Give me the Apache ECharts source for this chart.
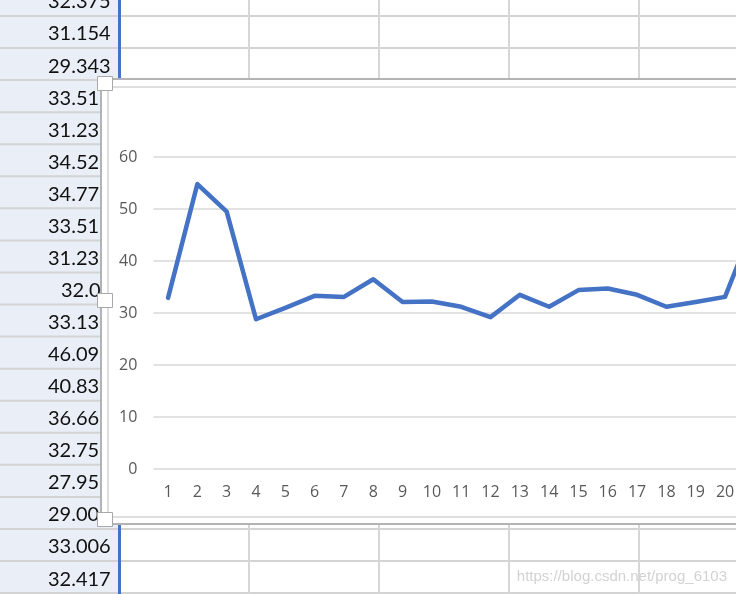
<!DOCTYPE html>
<html>
<head>
<meta charset="utf-8">
<script src="https://cdn.jsdelivr.net/npm/echarts@6/dist/echarts.min.js"></script>
<style>
html,body{margin:0;padding:0;background:#fff;overflow:hidden;width:736px;height:594px;}
#main{width:780px;height:594px;}
</style>
</head>
<body>
<div id="main"></div>
<script>
// ---- data ----
var categories = ['1','2','3','4','5','6','7','8','9','10','11','12','13','14','15','16','17','18','19','20','21'];
var values = [32.9, 54.8, 49.5, 28.8, 31.0, 33.3, 33.1, 36.5, 32.1, 32.2, 31.2, 29.2, 33.5, 31.2, 34.4, 34.7, 33.5, 31.2, 32.1, 33.1, 47.3];
var yMin = 0, yMax = 60, yStep = 10;
// spreadsheet cells visible in the left column (as seen, clipped by the chart)
var cellTexts = ['32.375','31.154','29.343','33.51','31.23','34.52','34.77','33.51','31.23','32.0','33.13','46.09','40.83','36.66','32.75','27.95','29.00','33.006','32.417'];
var watermark = 'https://blog.csdn.net/prog_6103';

// ---- layout of the sheet backdrop ----
var W = 780;
var rowTop = -16.06, rowH = 32.06;
var colLines = [249, 379, 509, 639, 769];
var g = [];
g.push({type:'rect', z:-30, shape:{x:0,y:0,width:W,height:594}, style:{fill:'#ffffff'}});
g.push({type:'rect', z:-29, shape:{x:0,y:0,width:118,height:594}, style:{fill:'#E9EEF7'}});
for (var i = 1; i <= 19; i++) {
  var yy = rowTop + i * rowH;
  g.push({type:'line', z:-28, shape:{x1:0,y1:yy,x2:W,y2:yy}, style:{stroke:'#D3D3D3', lineWidth:2}});
}
colLines.forEach(function (cx) {
  g.push({type:'line', z:-28, shape:{x1:cx,y1:0,x2:cx,y2:594}, style:{stroke:'#D6D6D6', lineWidth:2}});
});
g.push({type:'line', z:-27, shape:{x1:119.5,y1:0,x2:119.5,y2:594}, style:{stroke:'#4472C4', lineWidth:3}});
cellTexts.forEach(function (t, k) {
  var cy = rowTop + k * rowH + rowH / 2 + 2;
  var startX = (t === '32.0') ? 61 : 48;
  g.push({type:'text', z:-26, x:startX, y:cy,
    style:{text:t, fill:'#111111', font:'20px Lato', textAlign:'left', textVerticalAlign:'middle'}});
});
// chart object frame
g.push({type:'rect', z:-20, shape:{x:101,y:79,width:760,height:445}, style:{fill:'#ffffff', stroke:'#B3B3B3', lineWidth:2}});
g.push({type:'rect', z:-19, shape:{x:108,y:87,width:760,height:430}, style:{fill:'#ffffff', stroke:'#D4D4D4', lineWidth:1.5}});
// selection handles
[76, 293, 512].forEach(function (hy) {
  g.push({type:'rect', z:50, shape:{x:97.5,y:hy+0.5,width:15,height:14}, style:{fill:'#ffffff', stroke:'#A8A8A8', lineWidth:1}});
});
g.push({type:'text', z:50, x:727, y:577,
  style:{text:watermark, fill:'#D2D2D2', font:'15px "Liberation Sans"', textAlign:'right', textVerticalAlign:'middle'}});

var chart = echarts.init(document.getElementById('main'), null, {renderer:'canvas'});
chart.setOption({
  animation:false,
  graphic:{elements:g},
  grid:{left:153.4, top:157, width:615.6, height:312, containLabel:false},
  xAxis:{
    type:'category', data:categories, boundaryGap:true,
    axisLine:{show:false}, axisTick:{show:false},
    axisLabel:{interval:0, color:'#595959', fontSize:16, fontFamily:'Open Sans', margin:15}
  },
  yAxis:{
    type:'value', min:yMin, max:yMax, interval:yStep,
    axisLine:{show:false}, axisTick:{show:false},
    axisLabel:{color:'#595959', fontSize:16, fontFamily:'Open Sans', margin:16},
    splitLine:{lineStyle:{color:'#D9D9D9', width:1.5}}
  },
  series:[{
    type:'line', data:values, symbol:'none', smooth:false,
    lineStyle:{color:'#4472C4', width:4.5, join:'round', cap:'round'}
  }]
});
</script>
</body>
</html>
